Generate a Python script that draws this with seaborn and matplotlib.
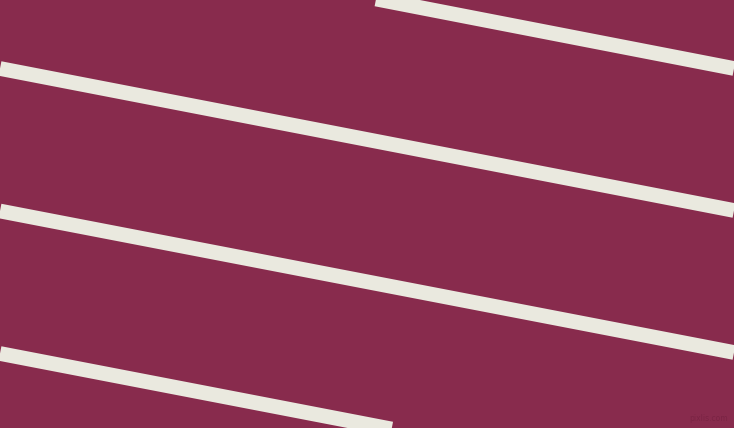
import pandas as pd
import matplotlib
matplotlib.use("Agg")
import matplotlib.pyplot as plt
import seaborn as sns

# stripe centre lines, in pixel units of the 734x428 canvas
left_y = [-74.0, 68.5, 211.0, 353.5]    # y where each stripe meets x = 0
right_y = [68.5, 210.5, 352.5, 495.0]   # y where each stripe meets x = 734
x_ends = [0, 734]

bg_color = "#882B4D"
stripe_color = "#EAE9DF"

rows = []
for i, (yl, yr) in enumerate(zip(left_y, right_y)):
    rows.append({"stripe": i, "x": x_ends[0], "y": yl})
    rows.append({"stripe": i, "x": x_ends[1], "y": yr})
df = pd.DataFrame(rows)

sns.set_theme(style="white")
fig = plt.figure(figsize=(7.34, 4.28), dpi=100)
fig.patch.set_facecolor(bg_color)
ax = fig.add_axes([0, 0, 1, 1])
ax.set_facecolor(bg_color)

sns.lineplot(data=df, x="x", y="y", units="stripe", estimator=None,
             color=stripe_color, linewidth=10.6, ax=ax, legend=False,
             solid_capstyle="butt")

ax.set_xlim(0, 734)
ax.set_ylim(428, 0)
ax.set_axis_off()

ax.text(728, 423, "pixlis.com", color="#7A2444", fontsize=5.5,
        ha="right", va="bottom")

fig.savefig("out.png", dpi=100, facecolor=bg_color)
